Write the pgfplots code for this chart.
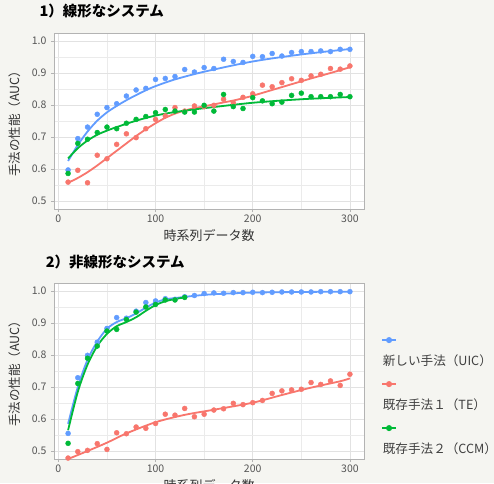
\documentclass[border=0pt]{standalone}
\usepackage{pgfplots}
\pgfplotsset{compat=1.18}
\usepackage{pgfplotstable}
\usepackage{fontspec}
\setmainfont{Noto Sans CJK JP}
\definecolor{cblue}{HTML}{619CFF}
\definecolor{cred}{HTML}{F8766D}
\definecolor{cgreen}{HTML}{00BA38}
\definecolor{bg}{HTML}{F5F5F1}
\definecolor{gridc}{HTML}{E2E2E2}
\definecolor{bord}{HTML}{B3B3B3}
\definecolor{ticklab}{HTML}{555555}

\pgfplotstableread{
x y
10 0.597
20 0.695
30 0.731
40 0.771
50 0.792
60 0.804
70 0.828
80 0.847
90 0.852
100 0.880
110 0.883
120 0.889
130 0.911
140 0.903
150 0.917
160 0.914
170 0.943
180 0.936
190 0.933
200 0.952
210 0.951
220 0.961
230 0.953
240 0.964
250 0.967
260 0.967
270 0.969
280 0.967
290 0.974
300 0.974
}\topblue
\pgfplotstableread{
x y
10 0.559
20 0.596
30 0.557
40 0.643
50 0.632
60 0.677
70 0.710
80 0.698
90 0.726
100 0.755
110 0.766
120 0.792
130 0.781
140 0.797
150 0.795
160 0.799
170 0.818
180 0.807
190 0.824
200 0.835
210 0.862
220 0.857
230 0.870
240 0.882
250 0.877
260 0.891
270 0.896
280 0.914
290 0.912
300 0.922
}\topred
\pgfplotstableread{
x y
10 0.586
20 0.680
30 0.693
40 0.714
50 0.731
60 0.726
70 0.743
80 0.755
90 0.764
100 0.776
110 0.786
120 0.781
130 0.778
140 0.778
150 0.799
160 0.781
170 0.833
180 0.795
190 0.789
200 0.823
210 0.813
220 0.804
230 0.809
240 0.830
250 0.837
260 0.826
270 0.826
280 0.826
290 0.833
300 0.826
}\topgreen
\pgfplotstableread{
x y
10 0.555
20 0.729
30 0.799
40 0.840
50 0.883
60 0.917
70 0.915
80 0.937
90 0.964
100 0.969
110 0.976
120 0.974
130 0.982
140 0.986
150 0.992
160 0.994
170 0.993
180 0.995
190 0.995
200 0.996
210 0.995
220 0.996
230 0.997
240 0.997
250 0.997
260 0.997
270 0.998
280 0.998
290 0.998
300 0.998
}\botblue
\pgfplotstableread{
x y
10 0.478
20 0.498
30 0.502
40 0.523
50 0.505
60 0.557
70 0.554
80 0.575
90 0.571
100 0.586
110 0.615
120 0.612
130 0.633
140 0.607
150 0.615
160 0.628
170 0.632
180 0.649
190 0.645
200 0.651
210 0.658
220 0.680
230 0.688
240 0.691
250 0.693
260 0.714
270 0.708
280 0.719
290 0.705
300 0.740
}\botred
\pgfplotstableread{
x y
10 0.524
20 0.711
30 0.790
40 0.828
50 0.875
60 0.880
70 0.911
80 0.934
90 0.950
100 0.958
110 0.972
120 0.972
130 0.980
}\botgreen

\pgfplotsset{
 panel/.style={
  scale only axis, width=310pt, height=176pt,
  xmin=-4.5, xmax=314.5, ymin=0.475, ymax=1.025,
  xtick={0,100,200,300}, minor xtick={50,150,250},
  ytick={0.5,0.6,0.7,0.8,0.9,1.0}, minor ytick={0.55,0.65,0.75,0.85,0.95},
  grid=both,
  major grid style={gridc, line width=0.6pt},
  minor grid style={gridc!70, line width=0.35pt},
  axis line style={bord, line width=0.7pt},
  tick pos=left, tick align=outside,
  major tick length=3pt, minor tick length=0pt,
  every tick/.style={bord, line width=0.6pt},
  tick label style={ticklab, font=\fontsize{10.5}{12}\selectfont},
  /pgf/number format/assume math mode=true,
  yticklabel style={/pgf/number format/fixed, /pgf/number format/fixed zerofill, /pgf/number format/precision=1, xshift=-1pt},
  xticklabel style={yshift=1pt},
  axis background/.style={fill=white},
  xlabel={時系列データ数},
  ylabel={手法の性能（AUC）},
  xlabel style={at={(axis description cs:0.5,-0.152)}, anchor=center, font=\fontsize{13}{15}\selectfont, black!80},
  ylabel style={at={(axis description cs:-0.128,0.5)}, anchor=center, font=\fontsize{12.5}{14}\selectfont, black!80},
  title style={anchor=west, font=\fontsize{14.5}{16}\selectfont\bfseries},
  pts/.style={only marks, mark=*, mark size=2.5pt, forget plot},
  fit/.style={no marks, line width=1.8pt, smooth, forget plot},
 },
}

\begin{document}
\begin{tikzpicture}
\useasboundingbox (0pt,0pt) rectangle (494pt,-483pt);
\fill[bg] (0pt,0pt) rectangle (494pt,-483pt);
\clip (0pt,0pt) rectangle (494pt,-483pt);

\begin{axis}[panel, at={(54pt,-33pt)}, anchor=north west,
  title={1）線形なシステム},
  title style={at={(axis description cs:-0.058,1.09)}}]
\addplot[pts, cblue] table {\topblue};
\addplot[pts, cred] table {\topred};
\addplot[pts, cgreen] table {\topgreen};
\addplot[fit, cblue] coordinates {(10,0.625)(20,0.675)(30,0.717)(40,0.751)(50,0.777)(60,0.797)(70,0.815)(80,0.831)(90,0.846)(100,0.859)(120,0.880)(150,0.904)(200,0.936)(250,0.958)(300,0.975)};
\addplot[fit, cred] coordinates {(10,0.557)(20,0.572)(30,0.590)(40,0.611)(50,0.634)(60,0.657)(70,0.680)(80,0.703)(90,0.724)(100,0.743)(110,0.760)(120,0.773)(130,0.783)(140,0.790)(150,0.796)(160,0.802)(170,0.808)(180,0.814)(190,0.821)(200,0.829)(220,0.847)(240,0.865)(260,0.883)(280,0.900)(300,0.918)};
\addplot[fit, cgreen] coordinates {(10,0.633)(20,0.665)(30,0.689)(40,0.707)(50,0.720)(60,0.731)(80,0.751)(100,0.767)(120,0.778)(150,0.790)(200,0.807)(250,0.818)(300,0.825)};
\end{axis}

\begin{axis}[panel, at={(54pt,-283pt)}, anchor=north west,
  title={2）非線形なシステム},
  title style={at={(axis description cs:-0.038,1.085)}},
  legend style={at={(axis description cs:1.055,0.725)}, anchor=north west,
    draw=none, fill=none, inner sep=0pt, row sep=5pt,
    nodes={inner sep=2pt, text height=10pt, text depth=3pt},
    font=\fontsize{12.6}{15}\selectfont},
  legend cell align=left,
  legend image code/.code={%
    \draw[#1] (0pt,0pt) -- (14pt,0pt);
    \fill[#1] (7pt,0pt) circle (2.2pt);},
  ]
\addplot[pts, cblue] table {\botblue};
\addplot[pts, cred] table {\botred};
\addplot[pts, cgreen] table {\botgreen};
\addplot[fit, cblue] coordinates {(10,0.585)(20,0.700)(30,0.785)(40,0.842)(50,0.882)(60,0.903)(70,0.915)(80,0.930)(90,0.948)(100,0.964)(110,0.974)(120,0.978)(140,0.985)(160,0.990)(200,0.995)(250,0.997)(300,0.998)};
\addplot[fit, cred] coordinates {(10,0.475)(30,0.500)(50,0.526)(70,0.555)(100,0.590)(130,0.613)(160,0.629)(200,0.651)(230,0.675)(260,0.698)(290,0.718)(300,0.727)};
\addplot[fit, cgreen] coordinates {(10,0.565)(20,0.685)(30,0.770)(40,0.828)(50,0.866)(60,0.890)(70,0.903)(80,0.918)(90,0.938)(100,0.956)(110,0.968)(120,0.975)(130,0.980)};
\addlegendimage{cblue, line width=1.6pt}
\addlegendentry{}
\addlegendimage{empty legend}
\addlegendentry[text=black!75]{\hspace*{-16pt}新しい手法（UIC）}
\addlegendimage{cred, line width=1.6pt}
\addlegendentry{}
\addlegendimage{empty legend}
\addlegendentry[text=black!75]{\hspace*{-16pt}既存手法１（TE）}
\addlegendimage{cgreen, line width=1.6pt}
\addlegendentry{}
\addlegendimage{empty legend}
\addlegendentry[text=black!75]{\hspace*{-16pt}既存手法２（CCM）}
\end{axis}
\end{tikzpicture}
\end{document}
